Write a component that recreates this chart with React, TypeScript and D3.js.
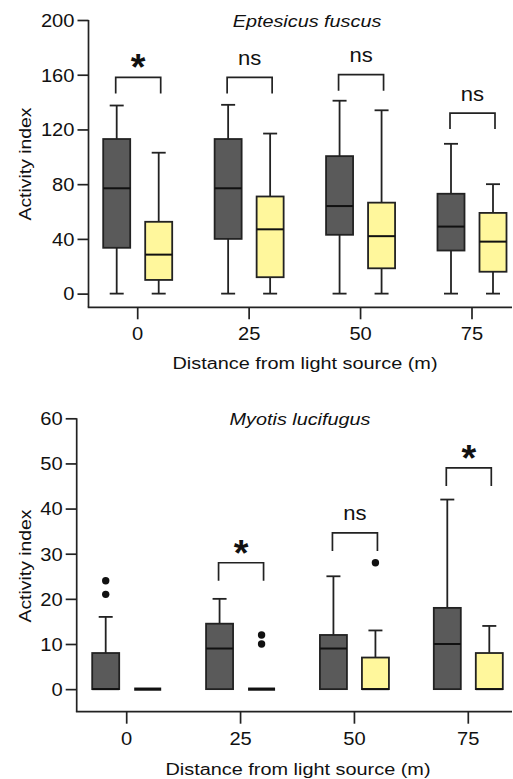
import React, { useRef, useEffect } from 'react';
import * as d3 from 'd3';

// distance categories (m)
const distances = ['0', '25', '50', '75'];

// five-number summaries [min, q1, median, q3, max]
const epDark = [
  [0, 33.5, 77, 113, 137.5],
  [0, 40, 77, 113, 138],
  [0, 43, 64, 100.5, 141],
  [0, 31.5, 49, 73, 109.5],
];
const epLight = [
  [0, 10, 28.5, 52.5, 103],
  [0, 12, 47, 71, 117],
  [0, 18.5, 42, 66.5, 134],
  [0, 16, 38, 59, 80],
];
const epDarkOutliers = [[], [], [], []];
const epLightOutliers = [[], [], [], []];
const epBracketTop = [158, 158, 160, 132];
const epSig = ['*', 'ns', 'ns', 'ns'];
const epTicks = [0, 40, 80, 120, 160, 200];

const myDark = [
  [0, 0, 0, 8, 16],
  [0, 0, 9, 14.5, 20],
  [0, 0, 9, 12, 25],
  [0, 0, 10, 18, 42],
];
const myLight = [
  [0, 0, 0, 0, 0],
  [0, 0, 0, 0, 0],
  [0, 0, 0, 7, 13],
  [0, 0, 0, 8, 14],
];
const myDarkOutliers = [[21, 24], [], [], []];
const myLightOutliers = [[], [10, 12], [28], []];
const myBracketTop = [null, 28, 34.6, 49];
const mySig = ['', '*', 'ns', '*'];
const myTicks = [0, 10, 20, 30, 40, 50, 60];

const FONT = '"Liberation Sans", Arial, sans-serif';
const INK = '#222';
const DARK_FILL = '#5a5a5a';
const LIGHT_FILL = '#fff79c';
const SX = 1.15; // the original lettering is a bit wide

const App = () => {
  const svgRef = useRef(null);

  useEffect(() => {
    const svg = d3.select(svgRef.current);
    svg.selectAll('*').remove();

    const label = (g, x, y, txt, size, opts: any = {}) =>
      g
        .append('text')
        .attr('transform', `translate(${x},${y}) ${opts.rotate ? 'rotate(-90)' : ''} scale(${opts.sx ?? SX},1)`)
        .attr('text-anchor', opts.anchor || 'middle')
        .style('font-family', FONT)
        .style('font-size', size + 'px')
        .style('font-style', opts.italic ? 'italic' : 'normal')
        .style('font-weight', opts.bold ? 'bold' : 'normal')
        .style('fill', '#111')
        .text(txt);

    const panels = [
      {
        title: 'Eptesicus fuscus', titleX: 307, titleY: 26.7,
        domain: [-10, 200], yRange: [307.3, 20], xRange: [137.7, 472], axisX: 88.5,
        ticks: epTicks, dark: epDark, light: epLight,
        darkOut: epDarkOutliers, lightOut: epLightOutliers,
        brackets: epBracketTop, sig: epSig, leg: 16,
        yLabelX: 31, yLabelY: 164, tickBase: 340, xTitleX: 305, xTitleBase: 369,
      },
      {
        title: 'Myotis lucifugus', titleX: 300, titleY: 425,
        domain: [-5, 60], yRange: [711.7, 418.3], xRange: [126.7, 468.3], axisX: 76.7,
        ticks: myTicks, dark: myDark, light: myLight,
        darkOut: myDarkOutliers, lightOut: myLightOutliers,
        brackets: myBracketTop, sig: mySig, leg: 18,
        yLabelX: 31, yLabelY: 566, tickBase: 745, xTitleX: 298, xTitleBase: 775,
      },
    ];

    panels.forEach((p) => {
      const y = d3.scaleLinear().domain(p.domain).range(p.yRange);
      const x = d3.scalePoint().domain(distances).range(p.xRange);
      const g = svg.append('g');
      const baseY = p.yRange[0];

      // y axis
      const yAxis = g
        .append('g')
        .attr('transform', `translate(${p.axisX},0)`)
        .call(d3.axisLeft(y).tickValues(p.ticks).tickSize(11).tickSizeOuter(0));
      yAxis.select('.domain').remove();
      yAxis.selectAll('.tick line').attr('stroke', INK).attr('stroke-width', 1.7);
      yAxis
        .selectAll('.tick text')
        .attr('x', null)
        .attr('dy', null)
        .attr('transform', `translate(-14,6.3) scale(${SX},1)`)
        .style('font-family', FONT)
        .style('font-size', '17.5px')
        .style('fill', '#111');
      g.append('line')
        .attr('x1', p.axisX).attr('x2', p.axisX)
        .attr('y1', p.yRange[1]).attr('y2', baseY)
        .attr('stroke', INK).attr('stroke-width', 1.7);

      // x axis
      g.append('line')
        .attr('x1', p.axisX - 0.8).attr('x2', 512)
        .attr('y1', baseY).attr('y2', baseY)
        .attr('stroke', INK).attr('stroke-width', 1.7);
      distances.forEach((d) => {
        g.append('line')
          .attr('x1', x(d)).attr('x2', x(d))
          .attr('y1', baseY).attr('y2', baseY + 12)
          .attr('stroke', INK).attr('stroke-width', 1.7);
        label(g, x(d), p.tickBase, d, 17.5);
      });

      label(g, p.xTitleX, p.xTitleBase, 'Distance from light source (m)', 17.3);
      label(g, p.yLabelX, p.yLabelY, 'Activity index', 17.3, { rotate: true, sx: 1.12 });
      label(g, p.titleX, p.titleY, p.title, 16.8, { italic: true, sx: 1.18 });

      // boxes
      const drawBox = (cx, s, fill, outs) => {
        const [mn, q1, md, q3, mx] = s;
        const half = 13.5;
        const cap = 7;
        g.append('line')
          .attr('x1', cx).attr('x2', cx).attr('y1', y(mx)).attr('y2', y(mn))
          .attr('stroke', INK).attr('stroke-width', 1.8);
        [mn, mx].forEach((v) => {
          g.append('line')
            .attr('x1', cx - cap).attr('x2', cx + cap).attr('y1', y(v)).attr('y2', y(v))
            .attr('stroke', INK).attr('stroke-width', 1.8);
        });
        g.append('rect')
          .attr('x', cx - half).attr('width', half * 2)
          .attr('y', y(q3)).attr('height', y(q1) - y(q3))
          .attr('fill', fill).attr('stroke', INK).attr('stroke-width', 1.8);
        g.append('line')
          .attr('x1', cx - half).attr('x2', cx + half).attr('y1', y(md)).attr('y2', y(md))
          .attr('stroke', '#111').attr('stroke-width', q1 === q3 ? 3.2 : 2);
        outs.forEach((v) => {
          g.append('circle').attr('cx', cx).attr('cy', y(v)).attr('r', 3.7).attr('fill', '#111');
        });
      };

      distances.forEach((d, i) => {
        drawBox(x(d) - 21, p.dark[i], DARK_FILL, p.darkOut[i]);
        drawBox(x(d) + 21, p.light[i], LIGHT_FILL, p.lightOut[i]);

        const top = p.brackets[i];
        if (top == null) return;
        const bx0 = x(d) - 22;
        const bx1 = x(d) + 23;
        const by = y(top);
        g.append('path')
          .attr('d', `M${bx0},${by + p.leg}V${by}H${bx1}V${by + p.leg}`)
          .attr('fill', 'none').attr('stroke', INK).attr('stroke-width', 1.7);
        const mid = (bx0 + bx1) / 2;
        if (p.sig[i] === '*') {
          label(g, mid, by + 3, '*', 36, { bold: true, sx: 1.05 });
        } else {
          label(g, mid, by - 12.5, p.sig[i], 21, { sx: 1.05 });
        }
      });
    });
  }, []);

  return (
    <svg
      ref={svgRef}
      width={513}
      height={779}
      style={{ position: 'absolute', left: 0, top: 0, background: '#fff' }}
    />
  );
};

export default App;
